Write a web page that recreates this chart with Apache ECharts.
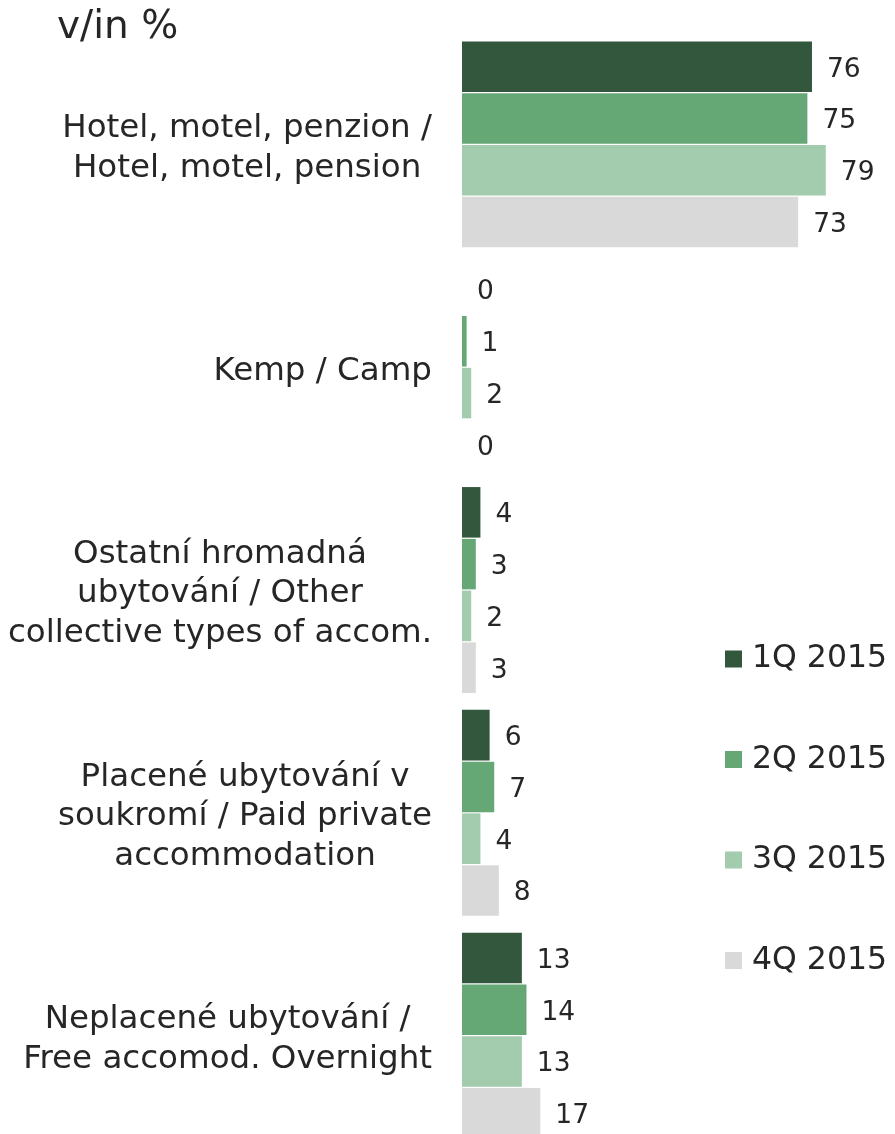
<!DOCTYPE html>
<html>
<head>
<meta charset="utf-8">
<script src="https://cdn.jsdelivr.net/npm/echarts@6/dist/echarts.min.js"></script>
<style>
  html, body { margin: 0; padding: 0; background: #ffffff; overflow: hidden; }
  /* the plot runs slightly past the bottom edge of the window */
  #chart { width: 895px; height: 1160px; }
</style>
</head>
<body>
<div id="chart"></div>
<script>
// Accommodation type shares by quarter (v/in %)
const categories = [
  'Hotel, motel, penzion /\nHotel, motel, pension',
  'Kemp / Camp',
  'Ostatní hromadná\nubytování / Other\ncollective types of accom.',
  'Placené ubytování v\nsoukromí / Paid private\naccommodation',
  'Neplacené ubytování /\nFree accomod. Overnight'
];
const seriesNames = ['1Q 2015', '2Q 2015', '3Q 2015', '4Q 2015'];
const q1 = [76, 0, 4, 6, 13];
const q2 = [75, 1, 3, 7, 14];
const q3 = [79, 2, 2, 4, 13];
const q4 = [73, 0, 3, 8, 17];
const unitLabel = 'v/in %';

const colors = ['#33573c', '#66a776', '#a3cbad', '#d9d9d9'];
const textColor = '#262626';
const fontFamily = '"DejaVu Sans", Verdana, sans-serif';

const chart = echarts.init(document.getElementById('chart'), null, { renderer: 'canvas' });

const values = [q1, q2, q3, q4];
const series = values.map((data, i) => ({
  name: seriesNames[i],
  type: 'bar',
  data: data,
  barCategoryGap: '7.6%',
  barGap: '2.5%',
  itemStyle: { color: colors[i] },
  label: {
    show: true,
    position: 'right',
    distance: 15,
    offset: [0, 3],
    color: textColor,
    fontFamily: fontFamily,
    fontSize: 26.5
  },
  emphasis: { disabled: true }
}));

chart.setOption({
  animation: false,
  backgroundColor: '#ffffff',
  title: {
    text: unitLabel,
    left: 57,
    top: 8,
    padding: 0,
    textStyle: { color: textColor, fontFamily: fontFamily, fontSize: 39, fontWeight: 'normal' }
  },
  legend: {
    orient: 'vertical',
    left: 725,
    top: 643,
    padding: 0,
    itemWidth: 17,
    itemHeight: 17,
    itemGap: 68.5,
    icon: 'rect',
    textStyle: { color: textColor, fontFamily: fontFamily, fontSize: 31.5, lineHeight: 30, padding: [0, 0, 0, 5] },
    data: seriesNames
  },
  grid: {
    left: 462,
    top: 33,
    width: 368.4,
    height: 1114,
    containLabel: false
  },
  xAxis: {
    type: 'value',
    min: 0,
    max: 80,
    show: false
  },
  yAxis: {
    type: 'category',
    data: categories,
    inverse: true,
    axisLine: { show: false },
    axisTick: { show: false },
    splitLine: { show: false },
    axisLabel: {
      margin: 30,
      align: 'right',
      padding: [8, 0, 0, 0],
      formatter: function (v) {
        return v.split('\n').map(line => '{c|' + line + '}').join('\n');
      },
      rich: {
        c: {
          align: 'center',
          color: textColor,
          fontFamily: fontFamily,
          fontSize: 32.5,
          lineHeight: 39.5
        }
      }
    }
  },
  series: series
});
</script>
</body>
</html>
